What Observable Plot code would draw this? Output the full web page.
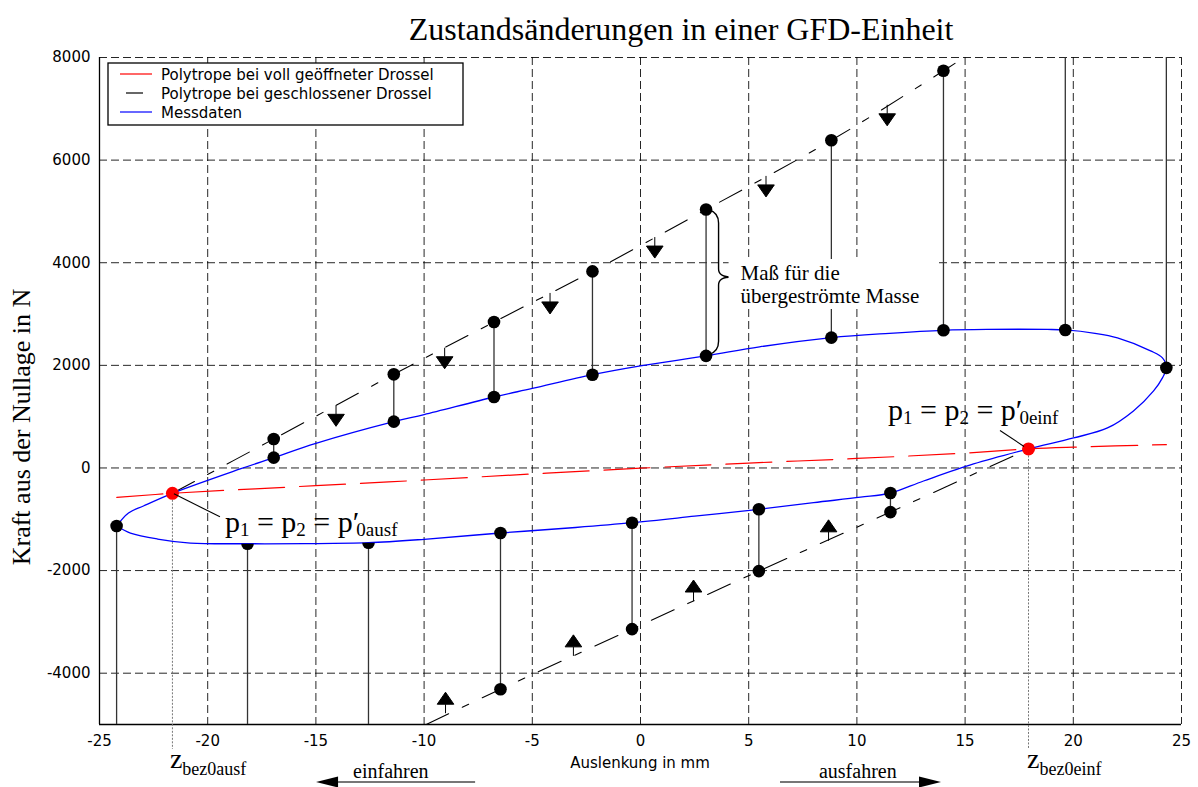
<!DOCTYPE html>
<html><head><meta charset="utf-8">
<script src="https://cdn.jsdelivr.net/npm/d3@7"></script>
<script src="https://cdn.jsdelivr.net/npm/@observablehq/plot@0.6"></script>
<style>html,body{margin:0;padding:0;background:#fff;overflow:hidden}</style>
</head><body><div id="chart"></div>
<script>
// ---------- data ----------
const xTicks = [-25, -20, -15, -10, -5, 0, 5, 10, 15, 20, 25];
const yTicks = [-4000, -2000, 0, 2000, 4000, 6000, 8000];

const titleText = "Zustandsänderungen in einer GFD-Einheit";
const xLabel = "Auslenkung in mm";
const yLabel = "Kraft aus der Nullage in N";
const legendLabels = ["Polytrope bei voll geöffneter Drossel", "Polytrope bei geschlossener Drossel", "Messdaten"];
const legendColors = ["#ff0000", "#000000", "#0000ff"];

// Messdaten (closed loop)
const messX = [-24.21, -23.66, -22.97, -21.63, -18.5, -16.95, -15, -11.4, -10, -6.77, -5, -2.22, 0, 3.03, 5.5, 8.82, 11.5, 14.0, 16.0, 18.8, 19.63, 21.0, 22.04, 23.57, 24.12, 24.3, 24.12, 23.71, 22.78, 21.58, 20.01, 17.93, 15.39, 13.08, 11.55, 10.17, 8.0, 5.47, 2.5, -0.39, -3.0, -6.47, -10, -12.57, -15.5, -18.16, -20.8, -22.32, -23.57, -24.21];
const messY = [-1131, -878, -741, -494, -20, 201, 480, 903, 1040, 1383, 1550, 1818, 1990, 2185, 2360, 2541, 2625, 2683, 2700, 2700, 2690, 2625, 2536, 2283, 2146, 1951, 1756, 1502, 1112, 780, 585, 371, 78, -254, -488, -570, -675, -806, -940, -1067, -1160, -1268, -1390, -1457, -1475, -1477, -1463, -1385, -1268, -1131];

// Polytrope bei voll geöffneter Drossel (red)
const redLineX = [-24.2, -21.63, -15, -10, -5, 0, 5, 10, 15, 17.93, 20, 24.3];
const redLineY = [-575, -494, -345, -235, -117, -5, 95, 185, 290, 371, 405, 455];

// Polytropen bei geschlossener Drossel (black)
const upperLineX = [-21.63, -16.95, -11.4, -6.77, -2.22, 3.03, 8.82, 14.0, 14.95];
const upperLineY = [-494, 565, 1825, 2844, 3831, 5037, 6386, 7741, 8000];
const lowerLineX = [-9.9, -6.47, -0.39, 5.47, 11.55, 17.93];
const lowerLineY = [-5000, -4312, -3141, -2010, -860, 371];

// measurement points
const upperX = [-16.95, -11.4, -6.77, -2.22, 3.03, 8.82, 14.0];
const upperPoly = [565, 1825, 2844, 3831, 5037, 6386, 7741];
const upperMess = [201, 903, 1383, 1818, 2185, 2541, 2683];
const lowerX = [-6.47, -0.39, 5.47, 11.55];
const lowerMess = [-1268, -1067, -806, -488];
const lowerPoly = [-4312, -3141, -2010, -860];
const topDropX = [19.63, 24.3];
const topDropY = [2690, 1951];
const bottomDropX = [-24.21, -18.16, -12.57];
const bottomDropY = [-1131, -1477, -1457];
const redX = [-21.63, 17.93];
const redY = [-494, 371];

// direction arrows on the polytropes
const arrowDownX = [-14.07, -9.05, -4.18, 0.66, 5.8, 11.4];
const arrowDownY = [1221, 2343, 3411, 4500, 5692, 7078];
const arrowUpX = [-9.01, -3.1, 2.45, 8.69];
const arrowUpY = [-4780, -3662, -2593, -1420];

// ---------- symbols ----------
const arrowDown = {draw(c) { c.moveTo(0, 0); c.lineTo(0, 9); c.moveTo(-8.3, 9); c.lineTo(8.3, 9); c.lineTo(0, 21); c.closePath(); }};
const arrowUp = {draw(c) { c.moveTo(0, 0); c.lineTo(0, -9); c.moveTo(-8.3, -9); c.lineTo(8.3, -9); c.lineTo(0, -21); c.closePath(); }};
const halfDisc = {draw(c, size) { const r = Math.sqrt(size / Math.PI); c.moveTo(r, 0); c.arc(0, 0, r, 0, Math.PI); c.closePath(); }};

const idx = a => d3.range(a.length);
const grid = {stroke: "#000", strokeWidth: 1, strokeDasharray: "8,4", strokeOpacity: 0.85};
const conn = {stroke: "#333", strokeWidth: 1.3};

const plot = Plot.plot({
  width: 1198, height: 787,
  marginTop: 57, marginBottom: 63, marginLeft: 99, marginRight: 17,
  style: {fontFamily: "'DejaVu Sans', sans-serif", fontSize: "15px", color: "#000", background: "#fff"},
  x: {domain: [-25, 25], ticks: xTicks, tickFormat: d => String(d), tickSize: 0, tickPadding: 11, label: null},
  y: {domain: [-5000, 8000], ticks: yTicks, tickFormat: d => String(d), tickSize: 0, tickPadding: 9, label: null},
  marks: [
    Plot.ruleX(xTicks, grid),
    Plot.ruleY(yTicks, grid),
    Plot.ruleX([-25], {stroke: "#000", strokeWidth: 1.3}),
    Plot.ruleY([-5000], {stroke: "#000", strokeWidth: 1.3}),
    Plot.ruleX(idx(upperX), {x: i => upperX[i], y1: i => upperPoly[i], y2: i => upperMess[i], ...conn}),
    Plot.ruleX(idx(lowerX), {x: i => lowerX[i], y1: i => lowerMess[i], y2: i => lowerPoly[i], ...conn}),
    Plot.ruleX(idx(topDropX), {x: i => topDropX[i], y1: () => 8000, y2: i => topDropY[i], ...conn}),
    Plot.ruleX(idx(bottomDropX), {x: i => bottomDropX[i], y1: i => bottomDropY[i], y2: () => -5000, ...conn}),
    Plot.ruleX(idx(redX), {x: i => redX[i], y1: i => redY[i], y2: () => -5000, insetBottom: -25, stroke: "#777", strokeWidth: 1, strokeDasharray: "2,1.5"}),
    Plot.line(idx(redLineX), {x: i => redLineX[i], y: i => redLineY[i], stroke: "#ff0000", strokeWidth: 1.2, strokeDasharray: "46,15", curve: "catmull-rom"}),
    Plot.line(idx(upperLineX), {x: i => upperLineX[i], y: i => upperLineY[i], stroke: "#000", strokeWidth: 1.1, strokeDasharray: "25,15,7,15", curve: "catmull-rom"}),
    Plot.line(idx(lowerLineX), {x: i => lowerLineX[i], y: i => lowerLineY[i], stroke: "#000", strokeWidth: 1.1, strokeDasharray: "25,15,7,15", curve: "catmull-rom"}),
    Plot.line(idx(messX), {x: i => messX[i], y: i => messY[i], stroke: "#0000ff", strokeWidth: 1.3, curve: "catmull-rom"}),
    Plot.dot(idx(arrowDownX), {x: i => arrowDownX[i], y: i => arrowDownY[i], symbol: arrowDown, r: 5, fill: "#000", stroke: "#000", strokeWidth: 1}),
    Plot.dot(idx(arrowUpX), {x: i => arrowUpX[i], y: i => arrowUpY[i], symbol: arrowUp, r: 5, fill: "#000", stroke: "#000", strokeWidth: 1}),
    Plot.dot(idx(upperX), {x: i => upperX[i], y: i => upperPoly[i], r: 6.3, fill: "#000"}),
    Plot.dot(idx(upperX), {x: i => upperX[i], y: i => upperMess[i], r: 6.3, fill: "#000"}),
    Plot.dot(idx(lowerX), {x: i => lowerX[i], y: i => lowerMess[i], r: 6.3, fill: "#000"}),
    Plot.dot(idx(lowerX), {x: i => lowerX[i], y: i => lowerPoly[i], r: 6.3, fill: "#000"}),
    Plot.dot(idx(topDropX), {x: i => topDropX[i], y: i => topDropY[i], r: 6.3, fill: "#000"}),
    Plot.dot([0], {x: i => bottomDropX[i], y: i => bottomDropY[i], r: 6.3, fill: "#000"}),
    Plot.dot([1, 2], {x: i => bottomDropX[i], y: i => bottomDropY[i], symbol: halfDisc, r: 6.3, fill: "#000"}),
    Plot.dot(idx(redX), {x: i => redX[i], y: i => redY[i], r: 6.5, fill: "#ff0000"})
  ]
});
document.getElementById("chart").appendChild(plot);

// ---------- annotations ----------
const svg = d3.select(plot);
const xs = plot.scale("x"), ys = plot.scale("y");
const sx = d3.scaleLinear(xs.domain, xs.range), sy = d3.scaleLinear(ys.domain, ys.range);
const serif = "'Liberation Serif','Times New Roman',serif";
const sans = "'DejaVu Sans',sans-serif";
const ann = svg.append("g").attr("text-anchor", "start");

function rich(x, y, parts, size, subSize, subShift) {
  const t = ann.append("text").attr("x", x).attr("y", y).attr("font-family", serif).attr("font-size", size).attr("fill", "#000").attr("text-anchor", "start");
  let cur = 0;
  for (const p of parts) {
    const s = t.append("tspan").text(p.t);
    const target = p.sub ? subShift : 0;
    if (target !== cur) { s.attr("dy", target - cur); cur = target; }
    if (p.sub) s.attr("font-size", subSize);
    if (p.dx) s.attr("dx", p.dx);
  }
  return t;
}

// title
ann.append("text").attr("x", (sx(-25) + sx(25)) / 2 + 41).attr("y", 40).attr("text-anchor", "middle")
  .attr("font-family", serif).attr("font-size", 32).text(titleText);
// y label
ann.append("text").attr("transform", "translate(30,427) rotate(-90)").attr("text-anchor", "middle")
  .attr("font-family", serif).attr("font-size", 26).text(yLabel);
// x label
ann.append("text").attr("x", (sx(-25) + sx(25)) / 2).attr("y", 768).attr("text-anchor", "middle")
  .attr("font-family", sans).attr("font-size", 15).text(xLabel);

// legend
const lg = ann.append("g");
lg.append("rect").attr("x", 108).attr("y", 63).attr("width", 355).attr("height", 62)
  .attr("fill", "#fff").attr("stroke", "#000").attr("stroke-width", 1.3);
legendLabels.forEach((lab, i) => {
  const yy = 74 + i * 19;
  lg.append("line").attr("x1", i === 1 ? 126 : 120).attr("x2", i === 1 ? 143 : 152).attr("y1", yy).attr("y2", yy)
    .attr("stroke", legendColors[i]).attr("stroke-width", 1.2);
  lg.append("text").attr("x", 161).attr("y", yy + 5.5).attr("text-anchor", "start").attr("font-family", sans).attr("font-size", 15).text(lab);
});

// leader lines + p labels
const rL = [sx(redX[0]), sy(redY[0])], rR = [sx(redX[1]), sy(redY[1])];
ann.append("line").attr("x1", rL[0] + 2).attr("y1", rL[1] + 1).attr("x2", rL[0] + 48).attr("y2", rL[1] + 24).attr("stroke", "#000").attr("stroke-width", 1.1);
ann.append("line").attr("x1", rR[0] - 4).attr("y1", rR[1] - 2).attr("x2", rR[0] - 28).attr("y2", rR[1] - 18).attr("stroke", "#000").attr("stroke-width", 1.1);
rich(rL[0] + 53, rL[1] + 39, [{t: "p"}, {t: "1", sub: 1}, {t: " = p"}, {t: "2", sub: 1}, {t: " = p′"}, {t: "0ausf", sub: 1, dx: -3}], 30, 19, 4);
rich(rR[0] - 140, rR[1] - 28, [{t: "p"}, {t: "1", sub: 1}, {t: " = p"}, {t: "2", sub: 1}, {t: " = p′"}, {t: "0einf", sub: 1, dx: -3}], 30, 19, 4);

// z labels
rich(rL[0] - 2, 768, [{t: "z"}, {t: "bez0ausf", sub: 1}], 28, 18, 7);
rich(rR[0] - 1, 768, [{t: "z"}, {t: "bez0einf", sub: 1}], 28, 18, 7);

// brace + "Maß für die übergeströmte Masse"
const bx = sx(upperX[4]), bTop = sy(upperPoly[4]), bBot = sy(upperMess[4]), bTip = 277;
ann.append("path").attr("fill", "none").attr("stroke", "#000").attr("stroke-width", 1.4)
  .attr("d", `M${bx + 4},${bTop + 1} Q${bx + 13},${bTop + 4} ${bx + 13},${bTop + 14} L${bx + 13},${bTip - 8} Q${bx + 13},${bTip} ${bx + 26},${bTip} Q${bx + 13},${bTip} ${bx + 13},${bTip + 8} L${bx + 13},${bBot - 14} Q${bx + 13},${bBot - 4} ${bx + 4},${bBot - 1}`);
const mg = ann.append("g");
const mt = mg.append("text").attr("font-family", serif).attr("font-size", 21).attr("text-anchor", "start");
mt.append("tspan").attr("x", bx + 35).attr("y", 280).text("Maß für die");
mt.append("tspan").attr("x", bx + 35).attr("y", 303).text("übergeströmte Masse");
const bb = mt.node().getBBox();
mg.insert("rect", "text").attr("x", bb.x - 12).attr("y", bb.y - 2).attr("width", bb.width + 30).attr("height", bb.height + 3).attr("fill", "#fff");

// direction arrows below the axis
function hArrow(xFrom, xTip, y) {
  const dir = Math.sign(xTip - xFrom), base = xTip - dir * 22;
  ann.append("line").attr("x1", xFrom).attr("x2", base).attr("y1", y).attr("y2", y).attr("stroke", "#777").attr("stroke-width", 2);
  ann.append("path").attr("d", `M${xTip},${y} L${base},${y - 5.5} L${base},${y + 5.5} Z`).attr("fill", "#000");
}
ann.append("text").attr("x", sx(-13.26)).attr("y", 778).attr("text-anchor", "start").attr("font-family", serif).attr("font-size", 20).text("einfahren");
hArrow(sx(-7.62), sx(-14.97), 782);
ann.append("text").attr("x", sx(8.27)).attr("y", 778).attr("text-anchor", "start").attr("font-family", serif).attr("font-size", 20).text("ausfahren");
hArrow(sx(6.47), sx(13.91), 782);
</script></body></html>
